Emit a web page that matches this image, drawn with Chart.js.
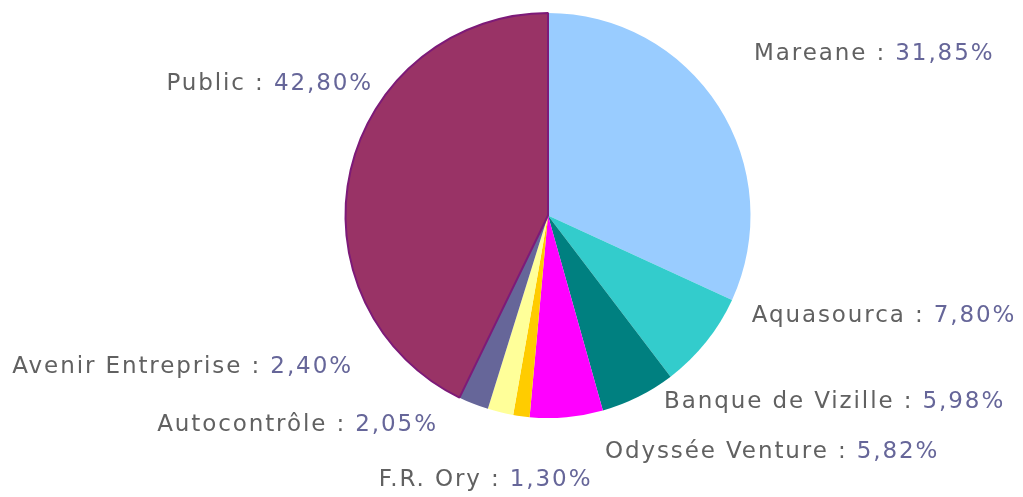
<!DOCTYPE html>
<html>
<head>
<meta charset="utf-8">
<script src="https://cdn.jsdelivr.net/npm/chart.js@4/dist/chart.umd.min.js"></script>
<style>
  html, body { margin: 0; padding: 0; background: #fff; }
  #wrap { width: 1023px; height: 497px; position: relative; }
</style>
</head>
<body>
<div id="wrap"><canvas id="pie"></canvas></div>
<script>
const labels = ['Mareane', 'Aquasourca', 'Banque de Vizille', 'Odyssée Venture',
                'F.R. Ory', 'Autocontrôle', 'Avenir Entreprise', 'Public'];
const shares = [31.85, 7.80, 5.98, 5.82, 1.30, 2.05, 2.40, 42.80];
const colors = ['#99ccff', '#33cccc', '#008080', '#ff00ff',
                '#ffcc00', '#ffff99', '#666699', '#993366'];

// label nudges from the radial anchor, and which side the text hangs on
const labelNudge = [[23, -44], [34, -35], [19, -8], [37, 20],
                    [73, 49], [-59, -2], [-115, -51], [37, -83]];
const labelAlign = ['left', 'left', 'left', 'left', 'right', 'right', 'right', 'right'];

const fmt = v => v.toFixed(2).replace('.', ',') + '%';

const pieLabels = {
    id: 'pieLabels',
    afterDraw(chart) {
        const ctx = chart.ctx;
        const arcs = chart.getDatasetMeta(0).data;
        ctx.save();
        ctx.font = '23px "DejaVu Sans", Verdana, sans-serif';
        ctx.letterSpacing = '1.9px';
        ctx.textBaseline = 'middle';
        ctx.textAlign = 'left';
        arcs.forEach((arc, i) => {
            const p = arc.getProps(['x', 'y', 'startAngle', 'endAngle', 'outerRadius'], true);
            const mid = (p.startAngle + p.endAngle) / 2;
            const r = p.outerRadius + 15;
            const ax = p.x + r * Math.cos(mid) + labelNudge[i][0];
            const ay = p.y + r * Math.sin(mid) + labelNudge[i][1];
            const name = labels[i] + ' : ';
            const val = fmt(shares[i]);
            const wName = ctx.measureText(name).width;
            const wVal = ctx.measureText(val).width;
            const x0 = labelAlign[i] === 'left' ? ax : ax - wName - wVal;
            ctx.fillStyle = '#616161';
            ctx.fillText(name, x0, ay);
            ctx.fillStyle = '#666699';
            ctx.fillText(val, x0 + wName, ay);
        });
        ctx.restore();
    }
};

new Chart(document.getElementById('pie'), {
    type: 'pie',
    data: {
        labels: labels,
        datasets: [{
            data: shares,
            backgroundColor: colors,
            borderColor: colors.map((c, i) => i === 7 ? '#7d1a78' : c),
            borderWidth: shares.map((v, i) => i === 7 ? 2 : 0),
            hoverOffset: 0
        }]
    },
    options: {
        responsive: true,
        maintainAspectRatio: false,
        animation: false,
        layout: { padding: { top: 12, bottom: 78, left: 300, right: 227 } },
        plugins: {
            legend: { display: false },
            tooltip: { enabled: false }
        }
    },
    plugins: [pieLabels]
});
</script>
</body>
</html>
